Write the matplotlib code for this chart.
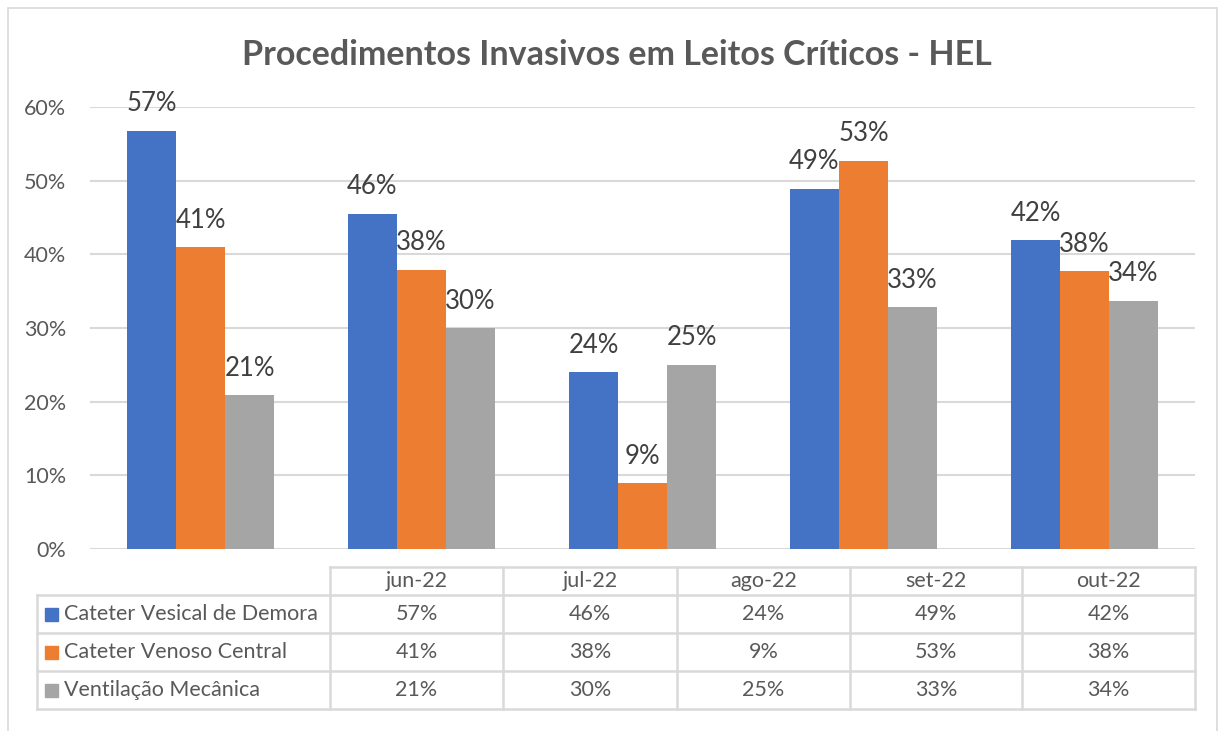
import matplotlib.pyplot as plt
from matplotlib.lines import Line2D
from matplotlib.patches import Rectangle

plt.rcParams["font.family"] = ["Lato", "DejaVu Sans"]

# Data
months = ["jun-22", "jul-22", "ago-22", "set-22", "out-22"]
series_names = ["Cateter Vesical de Demora", "Cateter Venoso Central", "Ventilação Mecânica"]
vesical = [56.8, 45.5, 24.0, 48.9, 41.9]
venoso = [41.0, 37.9, 8.9, 52.7, 37.7]
ventilacao = [20.9, 30.0, 25.0, 32.8, 33.7]
yticks = [0, 10, 20, 30, 40, 50, 60]

colors = ["#4472C4", "#ED7D31", "#A5A5A5"]
GRID = "#D9D9D9"
TXT = "#595959"
LBL = "#404040"

W, H = 1224, 731
fig = plt.figure(figsize=(W / 100, H / 100), dpi=100)


def fx(px):
    return px / W


def fy(py):
    return 1 - py / H


# chart border
fig.add_artist(Rectangle((fx(8), fy(745)), fx(1217) - fx(8), fy(8) - fy(745),
                         transform=fig.transFigure, fill=False, edgecolor=GRID, lw=1.2))

ax = fig.add_axes([fx(90), fy(549), fx(1195) - fx(90), fy(107) - fy(549)])
values = [vesical, venoso, ventilacao]
bw = 0.222
for i, (vals, c) in enumerate(zip(values, colors)):
    xs = [k + (i - 1) * bw for k in range(len(months))]
    ax.bar(xs, vals, width=bw, color=c, zorder=3)
    for x, v in zip(xs, vals):
        ax.annotate(f"{round(v):d}%", (x, v), xytext=(0, 14), textcoords="offset points",
                    ha="center", va="baseline", fontsize=18.5, color=LBL)

ax.set_xlim(-0.5, len(months) - 0.5)
ax.set_ylim(0, 60)
ax.set_yticks(yticks)
ax.set_yticklabels([f"{t}%" for t in yticks], fontsize=15.5, color=TXT)
ax.set_xticks([])
ax.tick_params(axis="y", length=0, pad=17)
ax.grid(axis="y", color=GRID, lw=1.5, zorder=0)
for s in ax.spines.values():
    s.set_visible(False)

# Title
fig.text(fx(617), fy(55), "Procedimentos Invasivos em Leitos Críticos - HEL",
         ha="center", va="center", fontsize=24.5, fontweight="bold", color=TXT)

# Data table
col_x = [330, 503, 677, 850, 1022, 1195]
row_y = [567, 595, 633, 671, 709]
left_x = 37


def hline(x0, x1, y):
    fig.add_artist(Line2D([fx(x0), fx(x1)], [fy(y), fy(y)], transform=fig.transFigure,
                          color=GRID, lw=1.8))


def vline(x, y0, y1):
    fig.add_artist(Line2D([fx(x), fx(x)], [fy(y0), fy(y1)], transform=fig.transFigure,
                          color=GRID, lw=1.8))


hline(col_x[0], col_x[-1], row_y[0])
for y in row_y[1:]:
    hline(left_x, col_x[-1], y)
for x in col_x:
    vline(x, row_y[0], row_y[-1])
vline(left_x, row_y[1], row_y[-1])

for j, m in enumerate(months):
    cx = (col_x[j] + col_x[j + 1]) / 2
    fig.text(fx(cx), fy((row_y[0] + row_y[1]) / 2), m, ha="center", va="center",
             fontsize=15.5, color=TXT)

for i, (name, vals, c) in enumerate(zip(series_names, values, colors)):
    cy = (row_y[i + 1] + row_y[i + 2]) / 2
    fig.add_artist(Rectangle((fx(45), fy(cy + 6.5)), fx(13), 13 / H,
                             transform=fig.transFigure, color=c))
    fig.text(fx(64), fy(cy), name, ha="left", va="center", fontsize=15.5, color=TXT)
    for j, v in enumerate(vals):
        cx = (col_x[j] + col_x[j + 1]) / 2
        fig.text(fx(cx), fy(cy), f"{round(v):d}%", ha="center", va="center",
                 fontsize=15.5, color=TXT)

fig.savefig("out.png", dpi=100, facecolor="white")
